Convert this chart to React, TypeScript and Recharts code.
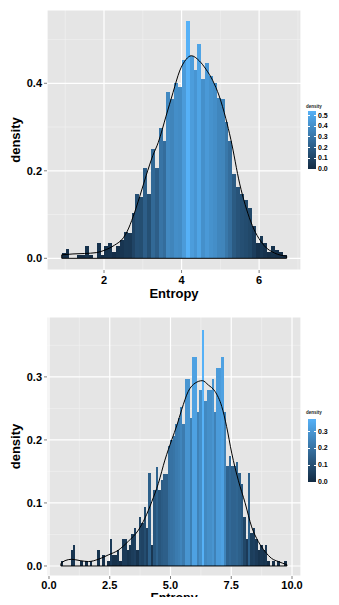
import {
  ComposedChart,
  Bar,
  Line,
  XAxis,
  YAxis,
  CartesianGrid,
  ReferenceLine,
  Cell,
  Label,
} from "recharts";

const BIN_WIDTH = 0.1;

// first panel: histogram bins (density per 0.1-wide bin)
const topBinStart = 0.91;
const topDensity = [
  0.013, 0.021, 0, 0, 0.007, 0.007, 0.028, 0.007, 0, 0.034,
  0.007, 0.028, 0.034, 0.014, 0.028, 0.042, 0.06, 0.057, 0.103, 0.147,
  0.14, 0.207, 0.148, 0.25, 0.207, 0.297, 0.267, 0.379, 0.363, 0.4,
  0.392, 0.453, 0.543, 0.463, 0.43, 0.49, 0.409, 0.446, 0.417, 0.4,
  0.367, 0.363, 0.311, 0.267, 0.193, 0.162, 0.146, 0.133, 0.116, 0.074,
  0.034, 0.051, 0.034, 0.015, 0.028, 0.018, 0.015, 0.008,
];
const topCurveX = [
  0.91, 1.2, 1.5, 1.8, 2.0, 2.27, 2.5, 2.6, 2.75, 2.92, 3.09, 3.26, 3.4, 3.6,
  3.78, 3.95, 4.12, 4.25, 4.46, 4.63, 4.8, 4.97, 5.14, 5.27, 5.5, 5.78, 6.12,
  6.4, 6.71,
];
const topCurveY = [
  0.008, 0.01, 0.011, 0.013, 0.018, 0.03, 0.047, 0.062, 0.095, 0.141, 0.19,
  0.235, 0.265, 0.325, 0.379, 0.428, 0.455, 0.463, 0.451, 0.432, 0.407, 0.371,
  0.32, 0.272, 0.17, 0.085, 0.03, 0.012, 0.005,
];
const topXTicks = [2, 4, 6];
const topXMinor = [1, 3, 5, 7];
const topYTicks = [0, 0.2, 0.4];
const topYMinor = [0.1, 0.3, 0.5];
const topLegendTicks = [0, 0.1, 0.2, 0.3, 0.4, 0.5];

// second panel
const bottomBinStart = 0.49;
const bottomDensity = [
  0.0085, 0, 0, 0, 0.025, 0.034, 0, 0, 0.0085, 0,
  0.0085, 0, 0.0085, 0, 0, 0.025, 0, 0.017, 0, 0.0085,
  0.043, 0.017, 0.017, 0.025, 0.0085, 0.043, 0.043, 0.025, 0.034, 0.051,
  0.06, 0.025, 0.077, 0.068, 0.094, 0.06, 0.147, 0.034, 0.12, 0.157,
  0.12, 0.137, 0.146, 0.146, 0.19, 0.2, 0.207, 0.225, 0.234, 0.252,
  0.225, 0.296, 0.296, 0.234, 0.331, 0.331, 0.244, 0.279, 0.375, 0.262,
  0.279, 0.279, 0.296, 0.244, 0.314, 0.314, 0.331, 0.245, 0.158, 0.174,
  0.158, 0.158, 0.165, 0.147, 0.13, 0.077, 0.043, 0.147, 0.052, 0.06,
  0.043, 0.025, 0.034, 0.025, 0.034, 0.0085, 0, 0.0085, 0, 0.0085,
  0, 0, 0.0085,
];
const bottomCurveX = [
  0.49, 0.66, 0.93, 1.28, 1.62, 2.03, 2.44, 2.85, 3.26, 3.68, 3.95, 4.23, 4.5,
  4.77, 5.05, 5.27, 5.46, 5.73, 6.01, 6.31, 6.56, 6.83, 7.11, 7.31, 7.52, 7.79,
  8.07, 8.34, 8.61, 8.89, 9.16, 9.44, 9.79,
];
const bottomCurveY = [
  0.004, 0.0085, 0.0106, 0.0085, 0.007, 0.0106, 0.0175, 0.025, 0.039, 0.057,
  0.076, 0.102, 0.131, 0.168, 0.2, 0.224, 0.248, 0.277, 0.29, 0.294, 0.287,
  0.277, 0.253, 0.221, 0.179, 0.136, 0.1, 0.062, 0.039, 0.023, 0.012, 0.007,
  0.002,
];
const bottomXTicks = [0, 2.5, 5, 7.5, 10];
const bottomXMinor = [1.25, 3.75, 6.25, 8.75];
const bottomYTicks = [0, 0.1, 0.2, 0.3];
const bottomYMinor = [0.05, 0.15, 0.25, 0.35];
const bottomLegendTicks = [0, 0.1, 0.2, 0.3];

const LOW = [0x13, 0x2b, 0x43];
const HIGH = [0x56, 0xb1, 0xf7];
const FONT = '"Liberation Sans", Arial, Helvetica, sans-serif';
const WIDTH = 339;
const Y_AXIS_W = 47;
const RIGHT = 38;

function fillFor(v: number, max: number) {
  const t = Math.max(0, Math.min(1, v / max));
  const c = LOW.map((l, i) => Math.round(l + (HIGH[i] - l) * t));
  return `rgb(${c.join(",")})`;
}

const tickStyle = { fill: "#000", fontSize: 11, fontWeight: 700, fontFamily: FONT };

interface HistProps {
  binStart: number;
  density: number[];
  curveX: number[];
  curveY: number[];
  xDomain: [number, number];
  yDomain: [number, number];
  xTicks: number[];
  xMinor: number[];
  yTicks: number[];
  yMinor: number[];
  xFmt: (v: number) => string;
  height: number;
  marginTop: number;
  xAxisHeight: number;
  tickMargin: number;
  titleBaseline: number;
  titleSize: number;
}

function Histogram(p: HistProps) {
  const max = Math.max(...p.density);
  const bins = p.density.map((d, i) => ({
    x: p.binStart + BIN_WIDTH * (i + 0.5),
    density: d,
  }));
  const curve = p.curveX.map((x, i) => ({ x, y: p.curveY[i] }));
  const plotW = WIDTH - Y_AXIS_W - RIGHT;
  const plotH = p.height - p.marginTop - p.xAxisHeight;
  const barPx = (plotW / (p.xDomain[1] - p.xDomain[0])) * BIN_WIDTH * 0.999;
  const x0 = p.curveX[0];
  const x1 = p.curveX[p.curveX.length - 1];
  const titleStyle = { fill: "#000", fontSize: p.titleSize, fontWeight: 700, fontFamily: FONT };

  // minor grid positions, same linear mapping as the axes
  const yPix = (v: number) =>
    p.marginTop + (plotH * (p.yDomain[1] - v)) / (p.yDomain[1] - p.yDomain[0]);
  const xPix = (v: number) =>
    Y_AXIS_W + (plotW * (v - p.xDomain[0])) / (p.xDomain[1] - p.xDomain[0]);

  return (
    <ComposedChart
      width={WIDTH}
      height={p.height}
      data={bins}
      margin={{ top: p.marginTop, right: RIGHT, bottom: 0, left: 0 }}
      barCategoryGap={0}
      barGap={0}
    >
      <CartesianGrid
        fill="#E5E5E5"
        stroke="#F2F2F2"
        strokeWidth={0.6}
        horizontalCoordinatesGenerator={() => p.yMinor.map(yPix)}
        verticalCoordinatesGenerator={() => p.xMinor.map(xPix)}
      />
      <CartesianGrid stroke="#FFFFFF" strokeWidth={1.2} fillOpacity={0} />
      <XAxis
        dataKey="x"
        type="number"
        domain={p.xDomain}
        allowDataOverflow
        ticks={p.xTicks}
        interval={0}
        tickFormatter={p.xFmt}
        tick={tickStyle}
        tickLine={{ stroke: "#7F7F7F" }}
        tickSize={3}
        tickMargin={p.tickMargin}
        axisLine={false}
        height={p.xAxisHeight}
      >
        <Label
          content={() => (
            <text x={Y_AXIS_W + plotW / 2} y={p.titleBaseline} textAnchor="middle" style={titleStyle}>
              Entropy
            </text>
          )}
        />
      </XAxis>
      <XAxis
        xAxisId="curve"
        dataKey="x"
        type="number"
        domain={p.xDomain}
        allowDataOverflow
        hide
      />
      <YAxis
        type="number"
        domain={p.yDomain}
        allowDataOverflow
        ticks={p.yTicks}
        interval={0}
        tickFormatter={(v: number) => v.toFixed(1)}
        tick={tickStyle}
        tickLine={{ stroke: "#7F7F7F" }}
        tickSize={3}
        axisLine={false}
        width={Y_AXIS_W}
      >
        <Label
          content={() => {
            const cx = 15;
            const cy = p.marginTop + plotH / 2;
            return (
              <text
                x={cx}
                y={cy}
                transform={`rotate(-90 ${cx} ${cy})`}
                textAnchor="middle"
                dominantBaseline="central"
                style={{ ...titleStyle, fontSize: 13 }}
              >
                density
              </text>
            );
          }}
        />
      </YAxis>
      <Bar dataKey="density" barSize={barPx} shapeRendering="crispEdges" isAnimationActive={false}>
        {bins.map((b, i) => (
          <Cell key={i} fill={fillFor(b.density, max)} />
        ))}
      </Bar>
      <Line
        xAxisId="curve"
        data={curve}
        dataKey="y"
        type="monotone"
        stroke="#000"
        strokeWidth={1}
        dot={false}
        activeDot={false}
        isAnimationActive={false}
      />
      <ReferenceLine segment={[{ x: x0, y: 0 }, { x: x1, y: 0 }]} stroke="#000" strokeWidth={1} />
      <ReferenceLine segment={[{ x: x0, y: 0 }, { x: x0, y: p.curveY[0] }]} stroke="#000" strokeWidth={1} />
      <ReferenceLine
        segment={[{ x: x1, y: 0 }, { x: x1, y: p.curveY[p.curveY.length - 1] }]}
        stroke="#000"
        strokeWidth={1}
      />
    </ComposedChart>
  );
}

interface LegendProps {
  top: number;
  barTop: number;
  barHeight: number;
  max: number;
  ticks: number[];
}

function ColorLegend({ top, barTop, barHeight, max, ticks }: LegendProps) {
  const barLeft = 308;
  const barW = 8;
  return (
    <div style={{ position: "absolute", left: 0, top: 0, fontFamily: FONT }}>
      <div
        style={{
          position: "absolute",
          left: 306,
          top,
          fontSize: 4.5,
          fontWeight: 700,
          color: "#222",
          whiteSpace: "nowrap",
        }}
      >
        density
      </div>
      <div
        style={{
          position: "absolute",
          left: barLeft,
          top: barTop,
          width: barW,
          height: barHeight,
          background: `linear-gradient(to top, ${fillFor(0, 1)}, ${fillFor(1, 1)})`,
        }}
      />
      {ticks.map((t) => {
        const y = barTop + barHeight * (1 - t / max);
        return (
          <div key={t}>
            <div style={{ position: "absolute", left: barLeft, top: y - 0.5, width: 2, height: 1, background: "#fff" }} />
            <div style={{ position: "absolute", left: barLeft + barW - 2, top: y - 0.5, width: 2, height: 1, background: "#fff" }} />
            <div
              style={{
                position: "absolute",
                left: barLeft + barW + 2,
                top: y - 4,
                height: 8,
                lineHeight: "8px",
                fontSize: 7,
                fontWeight: 700,
                color: "#000",
              }}
            >
              {t.toFixed(1)}
            </div>
          </div>
        );
      })}
    </div>
  );
}

export default function App() {
  return (
    <div
      style={{
        position: "relative",
        width: 339,
        height: 605,
        margin: -8,
        background: "#fff",
        overflow: "hidden",
      }}
    >
      <div style={{ position: "absolute", left: 0, top: 0 }}>
        <Histogram
          binStart={topBinStart}
          density={topDensity}
          curveX={topCurveX}
          curveY={topCurveY}
          xDomain={[0.53, 7.08]}
          yDomain={[-0.0267, 0.5675]}
          xTicks={topXTicks}
          xMinor={topXMinor}
          yTicks={topYTicks}
          yMinor={topYMinor}
          xFmt={(v) => String(v)}
          height={305}
          marginTop={10}
          xAxisHeight={35}
          tickMargin={3}
          titleBaseline={298}
          titleSize={13}
        />
      </div>
      <div style={{ position: "absolute", left: 0, top: 305 }}>
        <Histogram
          binStart={bottomBinStart}
          density={bottomDensity}
          curveX={bottomCurveX}
          curveY={bottomCurveY}
          xDomain={[-0.082, 10.37]}
          yDomain={[-0.0159, 0.395]}
          xTicks={bottomXTicks}
          xMinor={bottomXMinor}
          yTicks={bottomYTicks}
          yMinor={bottomYMinor}
          xFmt={(v) => v.toFixed(1)}
          height={300}
          marginTop={12}
          xAxisHeight={29}
          tickMargin={2}
          titleBaseline={297.2}
          titleSize={12.5}
        />
      </div>
      <ColorLegend top={104} barTop={111} barHeight={58} max={Math.max(...topDensity)} ticks={topLegendTicks} />
      <ColorLegend top={410} barTop={419} barHeight={63} max={Math.max(...bottomDensity)} ticks={bottomLegendTicks} />
    </div>
  );
}
